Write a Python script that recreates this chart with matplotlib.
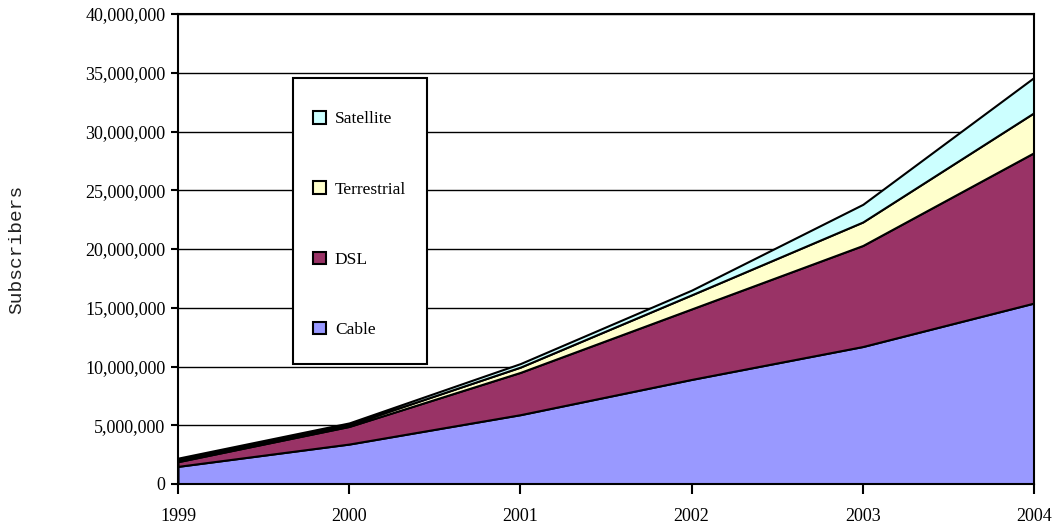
import numpy as np
import matplotlib
matplotlib.use('Agg')
import matplotlib.pyplot as plt
from matplotlib.patches import Rectangle
from matplotlib.ticker import FuncFormatter

years = [1999, 2000, 2001, 2002, 2003, 2004]
cable = [1.5e6, 3.4e6, 5.9e6, 8.9e6, 11.7e6, 15.4e6]
dsl = [0.4e6, 1.5e6, 3.6e6, 6.0e6, 8.6e6, 12.8e6]
terrestrial = [0.15e6, 0.15e6, 0.45e6, 1.2e6, 2.0e6, 3.4e6]
satellite = [0.15e6, 0.15e6, 0.3e6, 0.4e6, 1.5e6, 3.0e6]

labels = ['Cable', 'DSL', 'Terrestrial', 'Satellite']
colors = ['#9999FF', '#993366', '#FFFFCC', '#CCFFFF']

plt.rcParams['font.family'] = ['Liberation Serif', 'DejaVu Serif']

fig = plt.figure(figsize=(10.57, 5.29), dpi=100)
ax = fig.add_axes([178 / 1057, 1 - 484 / 529, 856 / 1057, 470 / 529])

ax.stackplot(years, cable, dsl, terrestrial, satellite,
             labels=labels, colors=colors, edgecolor='black', linewidth=1.5,
             zorder=3)

ax.set_xlim(1999, 2004)
ax.set_ylim(0, 40e6)
ax.set_xticks(years)
ax.set_yticks(np.arange(0, 40e6 + 1, 5e6))
ax.yaxis.set_major_formatter(FuncFormatter(lambda v, p: f'{int(v):,}'))
ax.grid(axis='y', color='black', linewidth=1.0, zorder=1)
ax.set_axisbelow(True)

for s in ax.spines.values():
    s.set_linewidth(1.5)
    s.set_zorder(5)

ax.tick_params(axis='y', direction='out', length=5, width=1.5, pad=4, labelsize=13)
ax.tick_params(axis='x', direction='out', length=7, width=1.5, pad=10, labelsize=13)

ax.set_ylabel('Subscribers', family='Liberation Mono', fontsize=14, color='#222222')
ax.yaxis.set_label_coords(-0.178, 0.5)

# legend box is taller than the entries need, so draw the frame separately
box = Rectangle((0.1343, 0.2553), 0.1565, 0.6085, transform=ax.transAxes,
                facecolor='white', edgecolor='black', linewidth=1.5, zorder=6)
ax.add_patch(box)

handles, lbls = ax.get_legend_handles_labels()
leg = ax.legend(handles[::-1], lbls[::-1], loc='upper left',
                bbox_to_anchor=(0.158, 0.7935), fontsize=12.5,
                handlelength=0.75, handleheight=0.75, handletextpad=0.5,
                labelspacing=3.1, borderpad=0, borderaxespad=0,
                frameon=False)
leg.set_zorder(7)
for h in leg.legend_handles:
    h.set_edgecolor('black')
    h.set_linewidth(1.5)

fig.savefig('out.png', dpi=100)
